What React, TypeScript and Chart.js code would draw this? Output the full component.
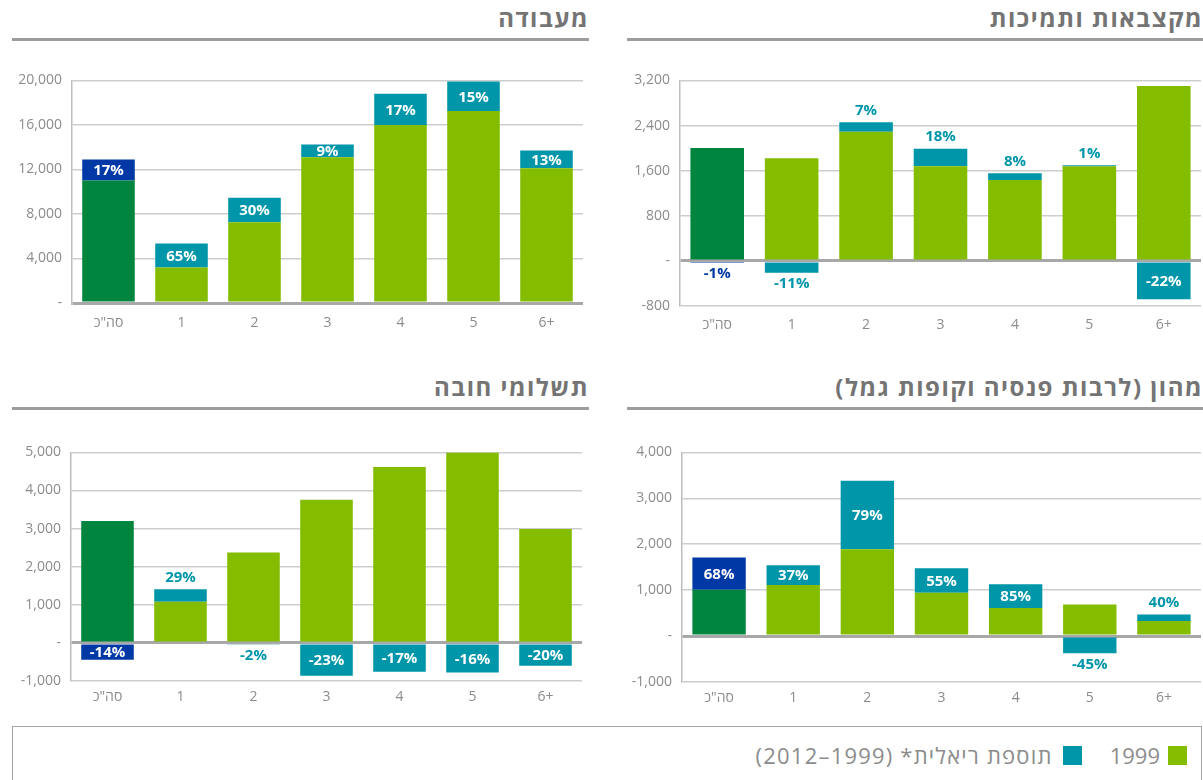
import React, { useEffect, useRef } from 'react';
import { Chart, registerables } from 'chart.js';

Chart.register(...registerables);

// ---------- DATA ----------
const categories = ['סה"כ', '1', '2', '3', '4', '5', '6+'];

// מעבודה
const work1999 = [11000, 3200, 7250, 13100, 16000, 17250, 12100];
const workAdd = [1900, 2150, 2200, 1150, 2800, 2650, 1600];
const workPct = ['17%', '65%', '30%', '9%', '17%', '15%', '13%'];
const workInside = [true, true, true, true, true, true, true];

// מקצבאות ותמיכות
const allow1999 = [2000, 1820, 2290, 1680, 1435, 1680, 3100];
const allowAdd = [-20, -210, 170, 310, 120, 17, -680];
const allowPct = ['-1%', '-11%', '7%', '18%', '8%', '1%', '-22%'];
const allowInside = [false, false, false, false, false, false, true];

// תשלומי חובה
const mand1999 = [3200, 1080, 2370, 3760, 4620, 5000, 2990];
const mandAdd = [-440, 330, -47, -860, -760, -780, -600];
const mandPct = ['-14%', '29%', '-2%', '-23%', '-17%', '-16%', '-20%'];
const mandInside = [true, false, false, true, true, true, true];

// מהון (לרבות פנסיה וקופות גמל)
const cap1999 = [1010, 1115, 1890, 945, 610, 690, 330];
const capAdd = [700, 430, 1490, 530, 520, -375, 140];
const capPct = ['68%', '37%', '79%', '55%', '85%', '-45%', '40%'];
const capInside = [true, true, true, true, true, false, false];

const legendBase = '1999';
const legendAdd = 'תוספת ריאלית* (1999–2012)';

// ---------- STYLE ----------
const FONT = "'Open Sans', 'DejaVu Sans', sans-serif";
const C_BASE = '#84bc00';
const C_BASE_TOTAL = '#00853f';
const C_ADD = '#0096aa';
const C_ADD_TOTAL = '#0039a6';
const C_TEXT = '#8c8c8c';
const C_TITLE = '#747474';

type Box = { left: number; right: number; top: number; bottom: number };

type ChartProps = {
  base: number[];
  add: number[];
  pct: string[];
  inside: boolean[];
  yMin: number;
  yMax: number;
  step: number;
  box: Box;
  xPad: number;
};

const AXIS_W = 60;
const PAD_T = 15;
const X_H = 40;
const PAD_R = 2;

function BarChart({ base, add, pct, inside, yMin, yMax, step, box, xPad }: ChartProps) {
  const ref = useRef<HTMLCanvasElement>(null);
  const cLeft = box.left - AXIS_W;
  const cTop = box.top - PAD_T;
  const width = box.right + PAD_R - cLeft;
  const height = PAD_T + (box.bottom - box.top) + X_H;

  useEffect(() => {
    if (!ref.current) return;
    const labelPlugin = {
      id: 'pctLabels',
      afterDatasetsDraw(chart: any) {
        const meta = chart.getDatasetMeta(1);
        const ctx = chart.ctx;
        ctx.save();
        ctx.font = `bold 15px ${FONT}`;
        ctx.textAlign = 'center';
        ctx.textBaseline = 'middle';
        meta.data.forEach((el: any, i: number) => {
          const p = el.getProps(['x', 'y', 'base'], true);
          const top = Math.min(p.y, p.base);
          const bot = Math.max(p.y, p.base);
          if (inside[i]) {
            ctx.fillStyle = '#ffffff';
            ctx.fillText(pct[i], p.x, (top + bot) / 2 + 1);
          } else {
            ctx.fillStyle = i === 0 ? C_ADD_TOTAL : C_ADD;
            const ty = add[i] >= 0 ? top - 11.5 : bot + 11.5;
            ctx.fillText(pct[i], p.x, ty);
          }
        });
        ctx.restore();
      },
    };

    const chart = new Chart(ref.current, {
      type: 'bar',
      data: {
        labels: categories,
        datasets: [
          {
            data: base,
            backgroundColor: base.map((_, i) => (i === 0 ? C_BASE_TOTAL : C_BASE)),
            categoryPercentage: 1,
            barPercentage: 0.72,
            borderWidth: 0,
          },
          {
            data: add,
            backgroundColor: add.map((_, i) => (i === 0 ? C_ADD_TOTAL : C_ADD)),
            categoryPercentage: 1,
            barPercentage: 0.72,
            borderWidth: 0,
          },
        ],
      },
      options: {
        responsive: false,
        animation: false,
        devicePixelRatio: 1,
        layout: { padding: { top: PAD_T, right: PAD_R, left: 0, bottom: 0 } },
        plugins: { legend: { display: false }, tooltip: { enabled: false } },
        scales: {
          x: {
            stacked: true,
            grid: { display: false, drawTicks: false },
            border: { display: false },
            ticks: { color: C_TEXT, font: { family: FONT, size: 14 }, padding: xPad, maxRotation: 0 },
            afterFit: (s: any) => {
              s.height = X_H;
            },
          },
          y: {
            stacked: true,
            min: yMin,
            max: yMax,
            ticks: {
              stepSize: step,
              color: C_TEXT,
              font: { family: FONT, size: 14 },
              padding: 10,
              callback: (v: any) => (Number(v) === 0 ? '-' : Number(v).toLocaleString('en-US')),
            },
            grid: {
              drawTicks: false,
              color: (c: any) => (c.tick && c.tick.value === 0 ? '#a8a8a8' : '#cdcdcd'),
              lineWidth: (c: any) => (c.tick && c.tick.value === 0 ? 3 : 1.5),
            },
            border: { display: true, color: '#bdbdbd', width: 1.5 },
            afterFit: (s: any) => {
              s.width = AXIS_W;
            },
          },
        },
      },
      plugins: [labelPlugin],
    } as any);
    return () => chart.destroy();
  }, []);

  return (
    <canvas
      ref={ref}
      width={width}
      height={height}
      style={{ position: 'absolute', left: cLeft, top: cTop, width, height }}
    />
  );
}

function Title({ text, left, right, top }: { text: string; left: number; right: number; top: number }) {
  return (
    <>
      <div
        style={{
          position: 'absolute',
          left,
          width: right - left,
          top,
          height: 28,
          lineHeight: '28px',
          direction: 'rtl',
          textAlign: 'right',
          fontFamily: FONT,
          fontWeight: 'bold',
          fontSize: 24,
          letterSpacing: '1.5px',
          color: C_TITLE,
          whiteSpace: 'nowrap',
        }}
      >
        {text}
      </div>
      <div style={{ position: 'absolute', left, width: right - left, top: top + 34, height: 3, background: '#9d9d9d' }} />
    </>
  );
}

export default function App() {
  return (
    <div style={{ position: 'absolute', left: 0, top: 0, width: 1203, height: 780, overflow: 'hidden', background: '#fff' }}>
      <Title text="מעבודה" left={12} right={589} top={4} />
      <Title text="מקצבאות ותמיכות" left={627} right={1203} top={4} />
      <Title text="תשלומי חובה" left={12} right={589} top={373} />
      <Title text="מהון (לרבות פנסיה וקופות גמל)" left={627} right={1203} top={373} />

      <BarChart
        base={work1999}
        add={workAdd}
        pct={workPct}
        inside={workInside}
        yMin={0}
        yMax={20000}
        step={4000}
        box={{ left: 72, right: 583, top: 77, bottom: 303 }}
        xPad={12}
      />
      <BarChart
        base={allow1999}
        add={allowAdd}
        pct={allowPct}
        inside={allowInside}
        yMin={-800}
        yMax={3200}
        step={800}
        box={{ left: 680, right: 1201, top: 77, bottom: 306 }}
        xPad={11}
      />
      <BarChart
        base={mand1999}
        add={mandAdd}
        pct={mandPct}
        inside={mandInside}
        yMin={-1000}
        yMax={5000}
        step={1000}
        box={{ left: 71, right: 582, top: 449, bottom: 681 }}
        xPad={8}
      />
      <BarChart
        base={cap1999}
        add={capAdd}
        pct={capPct}
        inside={capInside}
        yMin={-1000}
        yMax={4000}
        step={1000}
        box={{ left: 682, right: 1201, top: 449, bottom: 682 }}
        xPad={8}
      />

      <div
        style={{
          position: 'absolute',
          left: 12,
          top: 726,
          width: 1190,
          height: 80,
          border: '1.5px solid #a5a5a5',
          boxSizing: 'border-box',
        }}
      />
      <div
        style={{
          position: 'absolute',
          right: 16,
          top: 742,
          height: 26,
          display: 'flex',
          flexDirection: 'row',
          direction: 'rtl',
          alignItems: 'center',
          fontFamily: FONT,
          fontSize: 22,
          color: C_TEXT,
          whiteSpace: 'nowrap',
        }}
      >
        <span style={{ width: 19, height: 19, background: C_BASE, display: 'inline-block' }} />
        <span style={{ marginRight: 8 }}>{legendBase}</span>
        <span style={{ width: 19, height: 19, background: C_ADD, display: 'inline-block', marginRight: 28 }} />
        <span style={{ marginRight: 10, letterSpacing: '1.2px' }}>{legendAdd}</span>
      </div>
    </div>
  );
}
